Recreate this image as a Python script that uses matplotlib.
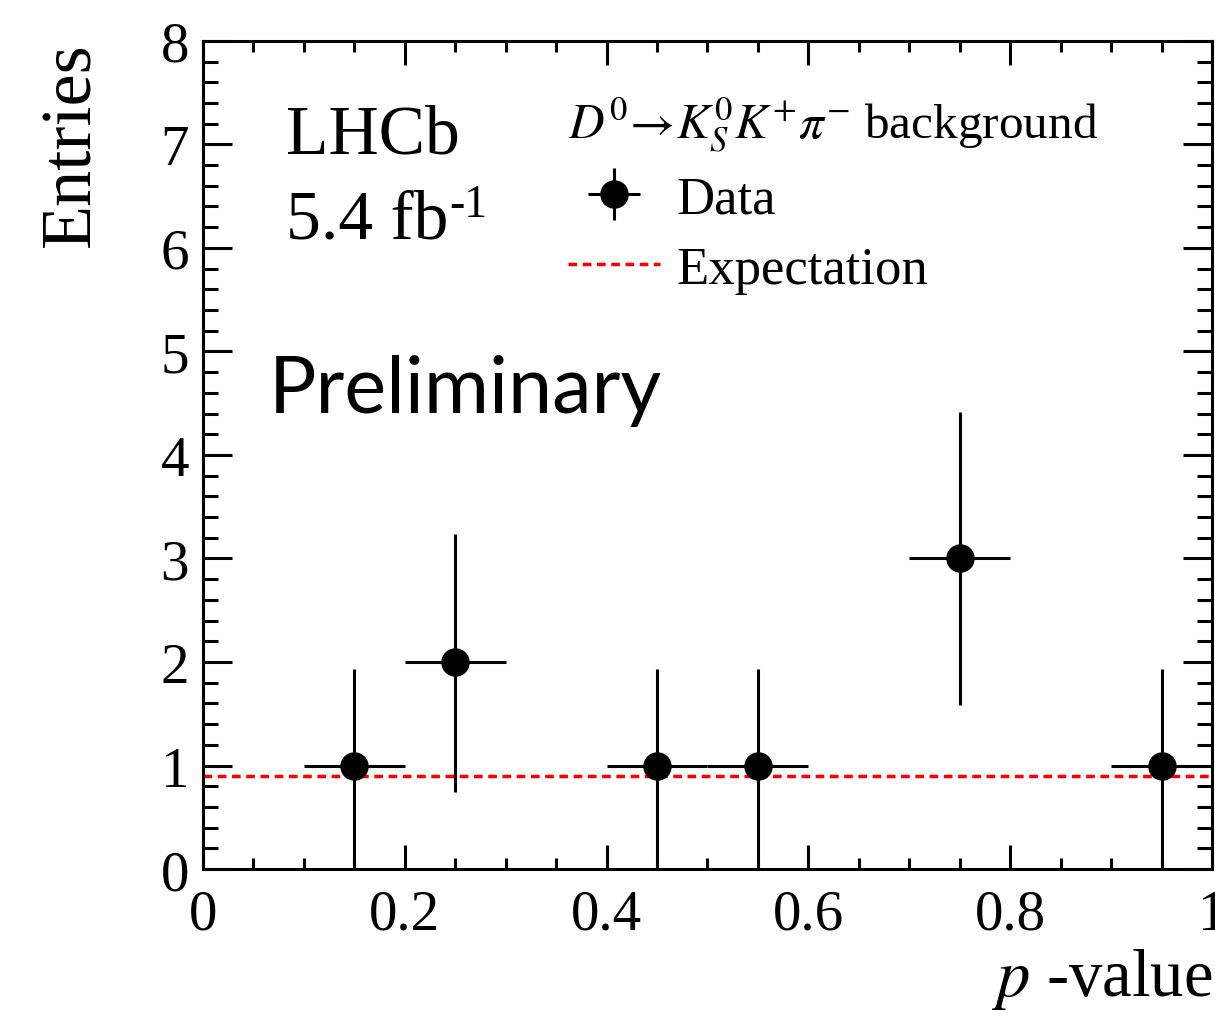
import matplotlib
matplotlib.use('Agg')
from matplotlib import pyplot as plt
from matplotlib.ticker import MultipleLocator

# p-value histogram (non-empty bins only)
bin_centers = [0.15, 0.25, 0.45, 0.55, 0.75, 0.95]
entries = [1, 2, 1, 1, 3, 1]
err_low = [1.0, 1.26, 1.0, 1.0, 1.42, 1.0]
err_high = [0.93, 1.24, 0.93, 0.93, 1.41, 0.93]
bin_half_width = [0.05] * 6
expectation = 0.9

plt.rcParams['font.family'] = 'Liberation Serif'
plt.rcParams['mathtext.fontset'] = 'stix'

fig = plt.figure(figsize=(12.15, 10.2), dpi=100)
ax = fig.add_axes([0.167, 0.147, 0.8305, 0.812])

data = ax.errorbar(bin_centers, entries, xerr=bin_half_width, yerr=[err_low, err_high],
                   fmt='o', color='black', ms=19.5, lw=2.2, capsize=0, label='Data')
exp_line = ax.axhline(expectation, color='red', lw=2.5, ls=(0, (2.5, 1.6)), label='Expectation')

ax.set_xlim(0, 1)
ax.set_ylim(0, 8)
ax.xaxis.set_major_locator(MultipleLocator(0.2))
ax.xaxis.set_minor_locator(MultipleLocator(0.05))
ax.yaxis.set_major_locator(MultipleLocator(1))
ax.yaxis.set_minor_locator(MultipleLocator(0.2))
ax.set_xticks([0, 0.2, 0.4, 0.6, 0.8, 1.0])
ax.set_xticklabels(['0', '0.2', '0.4', '0.6', '0.8', '1'])
ax.tick_params(which='both', direction='in', top=True, right=True, width=2.2, labelsize=41)
ax.tick_params(axis='x', which='major', length=17, pad=14)
ax.tick_params(axis='x', which='minor', length=8)
ax.tick_params(axis='y', which='major', length=21, pad=10)
ax.tick_params(axis='y', which='minor', length=11)
for s in ax.spines.values():
    s.set_linewidth(2.2)

ax.set_xlabel('$p$ -value', fontsize=48, loc='right', labelpad=4)
ax.set_ylabel('Entries', fontsize=52, loc='top', labelpad=40)

ax.text(0.082, 0.865, 'LHCb', transform=ax.transAxes, fontsize=50)
fb = ax.text(0.082, 0.763, '5.4 fb', transform=ax.transAxes, fontsize=50)
ax.annotate('-1', xy=(1, 1), xycoords=fb, xytext=(1, 4), textcoords='offset points',
            ha='left', va='top', fontsize=33)
ax.text(0.065, 0.552, 'Preliminary', transform=ax.transAxes, fontsize=57, family='Lato')

leg = ax.legend(handles=[data, exp_line], loc='upper left', bbox_to_anchor=(0.325, 0.98),
                frameon=False, fontsize=38, handlelength=1.75, handletextpad=0.3,
                labelspacing=0.42, alignment='left', borderpad=0.2,
                title='$D^0\\!\\rightarrow\\! K^0_S K^{+}\\pi^{-}$ background')
leg.get_title().set_fontsize(35.5)

fig.savefig('out.png', dpi=100)
